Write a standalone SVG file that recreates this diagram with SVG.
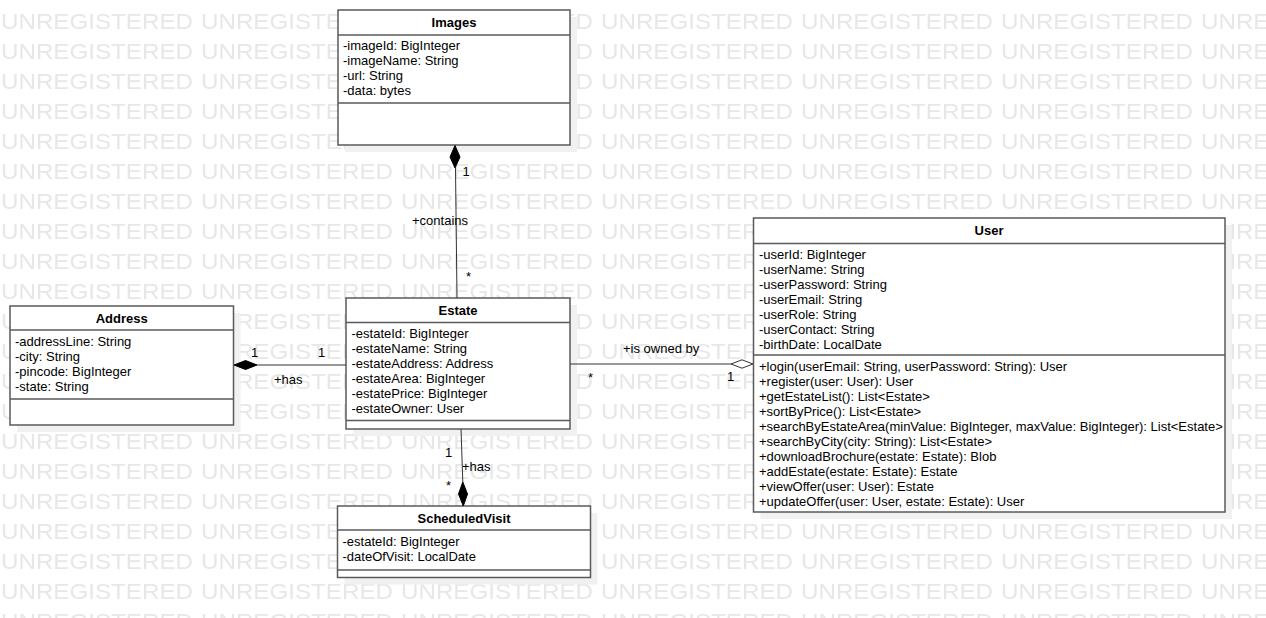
<svg xmlns="http://www.w3.org/2000/svg" width="1266" height="618" viewBox="0 0 1266 618">
<style>
.wm{font-family:"Liberation Sans",Arial,sans-serif;font-size:22px;fill:#e7e7e7}
.box{fill:#fff;stroke:#5a5a5a;stroke-width:1.5}
.shadow{fill:#f1f1f1}
.div{stroke:#5a5a5a;stroke-width:1.5}
.t{font-family:"Liberation Sans",Arial,sans-serif;font-size:13px;fill:#000}
.title{font-family:"Liberation Sans",Arial,sans-serif;font-size:13px;font-weight:bold;fill:#000;text-anchor:middle}
.ln{stroke:#333;stroke-width:1;fill:none}
.fd{fill:#000;stroke:#000;stroke-width:1}
.hd{fill:#fff;stroke:#333;stroke-width:1}
.lbl{font-family:"Liberation Sans",Arial,sans-serif;font-size:13px;fill:#000}
</style>
<defs>
<pattern id="wmp" patternUnits="userSpaceOnUse" x="1" y="0" width="200" height="30">
<text class="wm" x="0" y="29" textLength="192" lengthAdjust="spacingAndGlyphs">UNREGISTERED</text>
</pattern>
</defs>
<rect width="1266" height="618" fill="#fff"/>
<rect width="1266" height="618" fill="url(#wmp)"/>

<g id="Images">
<rect class="shadow" x="345" y="17" width="232" height="135"/>
<rect class="box" x="338" y="10" width="232" height="135"/>
<line class="div" x1="338" y1="35" x2="570" y2="35"/>
<line class="div" x1="338" y1="103" x2="570" y2="103"/>
<text class="title" x="454" y="27">Images</text>
<text class="t" x="343" y="50">-imageId: BigInteger</text>
<text class="t" x="343" y="65">-imageName: String</text>
<text class="t" x="343" y="80">-url: String</text>
<text class="t" x="343" y="95">-data: bytes</text>
</g>

<g id="Address">
<rect class="shadow" x="17" y="313" width="223.5" height="119"/>
<rect class="box" x="10" y="306" width="223.5" height="119"/>
<line class="div" x1="10" y1="330" x2="233.5" y2="330"/>
<line class="div" x1="10" y1="399" x2="233.5" y2="399"/>
<text class="title" x="121.75" y="322.5">Address</text>
<text class="t" x="15" y="346">-addressLine: String</text>
<text class="t" x="15" y="361">-city: String</text>
<text class="t" x="15" y="376">-pincode: BigInteger</text>
<text class="t" x="15" y="391">-state: String</text>
</g>

<g id="Estate">
<rect class="shadow" x="353" y="305" width="224" height="131"/>
<rect class="box" x="346" y="298" width="224" height="131"/>
<line class="div" x1="346" y1="322.5" x2="570" y2="322.5"/>
<line class="div" x1="346" y1="420.5" x2="570" y2="420.5"/>
<text class="title" x="458" y="315">Estate</text>
<text class="t" x="351.5" y="338">-estateId: BigInteger</text>
<text class="t" x="351.5" y="353">-estateName: String</text>
<text class="t" x="351.5" y="368">-estateAddress: Address</text>
<text class="t" x="351.5" y="383">-estateArea: BigInteger</text>
<text class="t" x="351.5" y="398">-estatePrice: BigInteger</text>
<text class="t" x="351.5" y="413">-estateOwner: User</text>
</g>

<g id="ScheduledVisit">
<rect class="shadow" x="344.5" y="513" width="253" height="71.5"/>
<rect class="box" x="337.5" y="506" width="253" height="71.5"/>
<line class="div" x1="337.5" y1="530" x2="590.5" y2="530"/>
<line class="div" x1="337.5" y1="570" x2="590.5" y2="570"/>
<text class="title" x="464" y="522.5">ScheduledVisit</text>
<text class="t" x="342.5" y="546">-estateId: BigInteger</text>
<text class="t" x="342.5" y="561">-dateOfVisit: LocalDate</text>
</g>

<g id="User">
<rect class="shadow" x="760.5" y="225" width="471.5" height="294"/>
<rect class="box" x="753.5" y="218" width="471.5" height="294"/>
<line class="div" x1="753.5" y1="243.5" x2="1225" y2="243.5"/>
<line class="div" x1="753.5" y1="355" x2="1225" y2="355"/>
<text class="title" x="989" y="235">User</text>
<text class="t" x="759" y="258.5">-userId: BigInteger</text>
<text class="t" x="759" y="273.5">-userName: String</text>
<text class="t" x="759" y="288.5">-userPassword: String</text>
<text class="t" x="759" y="303.5">-userEmail: String</text>
<text class="t" x="759" y="318.5">-userRole: String</text>
<text class="t" x="759" y="333.5">-userContact: String</text>
<text class="t" x="759" y="348.5">-birthDate: LocalDate</text>
<text class="t" x="759" y="370.5">+login(userEmail: String, userPassword: String): User</text>
<text class="t" x="759" y="385.5">+register(user: User): User</text>
<text class="t" x="759" y="400.5">+getEstateList(): List&lt;Estate&gt;</text>
<text class="t" x="759" y="415.5">+sortByPrice(): List&lt;Estate&gt;</text>
<text class="t" x="759" y="430.5">+searchByEstateArea(minValue: BigInteger, maxValue: BigInteger): List&lt;Estate&gt;</text>
<text class="t" x="759" y="445.5">+searchByCity(city: String): List&lt;Estate&gt;</text>
<text class="t" x="759" y="460.5">+downloadBrochure(estate: Estate): Blob</text>
<text class="t" x="759" y="475.5">+addEstate(estate: Estate): Estate</text>
<text class="t" x="759" y="490.5">+viewOffer(user: User): Estate</text>
<text class="t" x="759" y="505.5">+updateOffer(user: User, estate: Estate): User</text>
</g>

<g id="connectors">
<line class="ln" x1="455.5" y1="168" x2="457" y2="298"/>
<polygon class="fd" points="455,145.5 460,157 455,168 450,157"/>
<text class="lbl" x="462.5" y="176">1</text>
<text class="lbl" x="412" y="225">+contains</text>
<text class="lbl" x="466" y="281">*</text>

<line class="ln" x1="257" y1="365" x2="346" y2="365"/>
<polygon class="fd" points="234,365 245.5,360.5 257,365 245.5,369.5"/>
<text class="lbl" x="251" y="357">1</text>
<text class="lbl" x="318" y="357">1</text>
<text class="lbl" x="274" y="384">+has</text>

<line class="ln" x1="461" y1="429" x2="462.8" y2="482"/>
<polygon class="fd" points="463.3,506 458.5,494 462.8,482 467.5,494"/>
<text class="lbl" x="445" y="457">1</text>
<text class="lbl" x="462" y="471">+has</text>
<text class="lbl" x="446" y="490">*</text>

<line class="ln" x1="570" y1="364" x2="731" y2="364"/>
<polygon class="hd" points="753,364 742,359.8 731,364 742,368.2"/>
<text class="lbl" x="623" y="353">+is owned by</text>
<text class="lbl" x="588" y="382">*</text>
<text class="lbl" x="727" y="381">1</text>
</g>
</svg>
